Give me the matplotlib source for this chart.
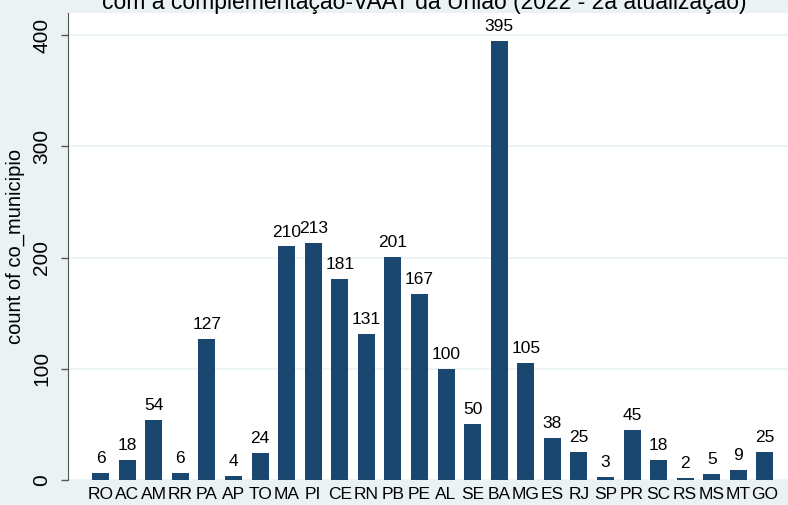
import matplotlib
matplotlib.use("Agg")
import matplotlib.pyplot as plt

states = ["RO", "AC", "AM", "RR", "PA", "AP", "TO", "MA", "PI", "CE", "RN", "PB", "PE",
          "AL", "SE", "BA", "MG", "ES", "RJ", "SP", "PR", "SC", "RS", "MS", "MT", "GO"]
counts = [6, 18, 54, 6, 127, 4, 24, 210, 213, 181, 131, 201, 167,
          100, 50, 395, 105, 38, 25, 3, 45, 18, 2, 5, 9, 25]
yticks = [0, 100, 200, 300, 400]
title = "com a complementação-VAAT da União (2022 - 2a atualização)"
ylabel = "count of co_municipio"

plt.rcParams['font.family'] = ['Liberation Sans', 'DejaVu Sans']

W, H = 788, 505
fig = plt.figure(figsize=(W / 100, H / 100), dpi=100, facecolor="#EAF2F3")
ax = fig.add_axes([68 / W, (H - 480) / H, 1 - 68 / W, (480 - 13) / H])
ax.set_facecolor("white")

x = list(range(len(states)))
bars = ax.bar(x, counts, width=0.64, color="#1A476F", zorder=3)
for xi, v in zip(x, counts):
    ax.annotate(str(v), (xi, v), xytext=(0, 5), textcoords="offset points",
                ha="center", va="bottom", fontsize=12.5, color="black")

ax.set_xlim(-1.23, 25.87)
ax.set_ylim(0, 420)
ax.set_xticks(x)
ax.set_xticklabels(states, fontsize=12.5)
ax.tick_params(axis="x", length=0, pad=5)
ax.set_yticks(yticks)
ax.set_yticklabels([str(t) for t in yticks], fontsize=15, rotation=90, va="center")
ax.tick_params(axis="y", length=5, width=1, color="#555555", pad=7)
ax.yaxis.grid(True, color="#EAF2F3", linewidth=1.2, zorder=0)
ax.set_axisbelow(True)
for s in ["top", "right", "bottom"]:
    ax.spines[s].set_visible(False)
ax.spines["left"].set_color("#555555")
ax.set_ylabel(ylabel, fontsize=14.5, labelpad=5)

fig.text(424 / W, 1 - 9 / H, title, ha="center", va="baseline", fontsize=16.5)

fig.savefig("out.png", dpi=100, facecolor=fig.get_facecolor())
